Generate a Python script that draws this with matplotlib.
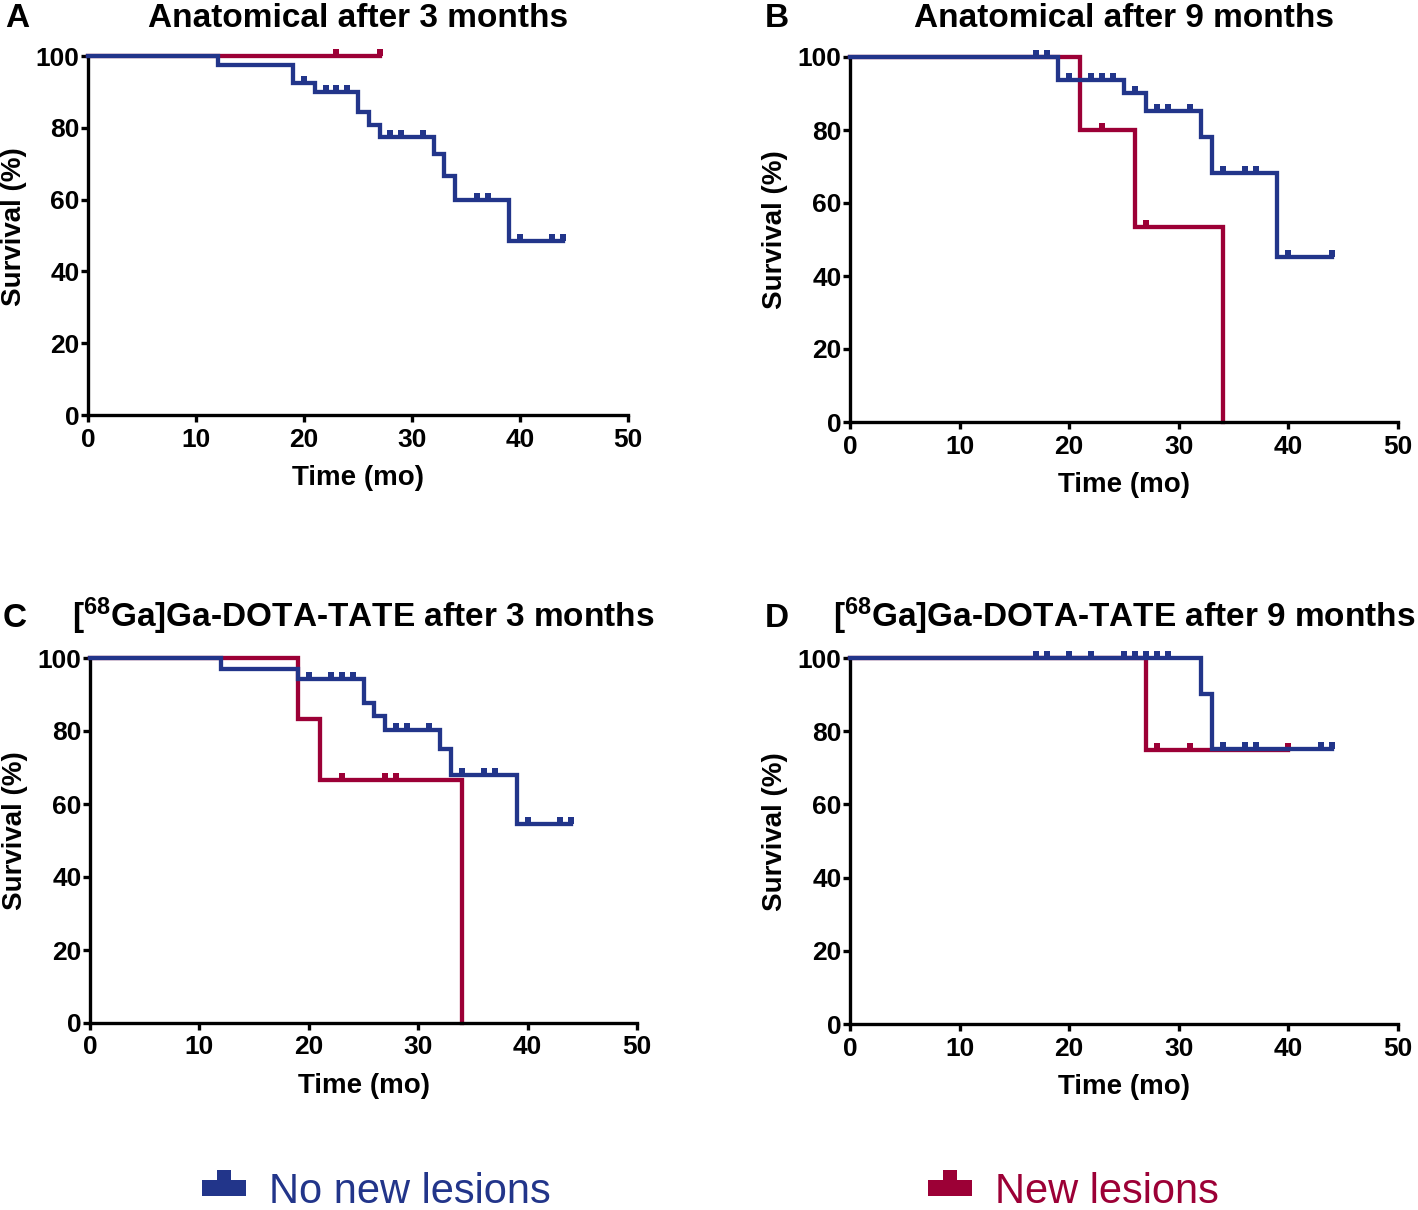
import matplotlib
matplotlib.use("Agg")
import matplotlib.pyplot as plt
from matplotlib.path import Path
from matplotlib.lines import Line2D

plt.rcParams['font.family'] = ['Liberation Sans', 'DejaVu Sans']
plt.rcParams['mathtext.fontset'] = 'custom'
plt.rcParams['mathtext.rm'] = 'Liberation Sans:bold'
plt.rcParams['mathtext.bf'] = 'Liberation Sans:bold'
plt.rcParams['mathtext.default'] = 'bf'

BLUE = '#22358a'
RED = '#9c0036'

# ---------------- data ----------------
titles = ['Anatomical after 3 months', 'Anatomical after 9 months',
          '[$^{68}$Ga]Ga-DOTA-TATE after 3 months', '[$^{68}$Ga]Ga-DOTA-TATE after 9 months']
letters = ['A', 'B', 'C', 'D']
group_labels = ['No new lesions', 'New lesions']
x_ticks = [0, 10, 20, 30, 40, 50]
y_ticks = [0, 20, 40, 60, 80, 100]

# Panel A
A_no_t = [0, 12, 19, 21, 25, 26, 27, 32, 33, 34, 39, 44]
A_no_s = [100, 97.5, 92.6, 90.0, 84.4, 80.9, 77.4, 72.6, 66.5, 59.9, 48.4, 48.4]
A_no_c = [20, 22, 23, 24, 28, 29, 31, 36, 37, 40, 43, 44]
A_new_t = [0, 27]
A_new_s = [100, 100]
A_new_c = [23, 27]

# Panel B
B_no_t = [0, 19, 25, 27, 32, 33, 39, 44]
B_no_s = [100, 93.8, 90.1, 85.3, 78.0, 68.1, 45.3, 45.3]
B_no_c = [17, 18, 20, 22, 23, 24, 26, 28, 29, 31, 34, 36, 37, 40, 44]
B_new_t = [0, 21, 26, 34]
B_new_s = [100, 80.0, 53.3, 0]
B_new_c = [23, 27]

# Panel C
C_no_t = [0, 12, 19, 25, 26, 27, 32, 33, 39, 44]
C_no_s = [100, 96.9, 94.3, 87.8, 84.0, 80.2, 75.0, 67.9, 54.6, 54.6]
C_no_c = [20, 22, 23, 24, 28, 29, 31, 34, 36, 37, 40, 43, 44]
C_new_t = [0, 19, 21, 34]
C_new_s = [100, 83.3, 66.7, 0]
C_new_c = [23, 27, 28]

# Panel D
D_no_t = [0, 32, 33, 44]
D_no_s = [100, 90.2, 75.2, 75.2]
D_no_c = [17, 18, 20, 22, 25, 26, 27, 28, 29, 34, 36, 37, 43, 44]
D_new_t = [0, 27, 40]
D_new_s = [100, 75.0, 75.0]
D_new_c = [28, 31, 40]

panels = [
    (A_no_t, A_no_s, A_no_c, A_new_t, A_new_s, A_new_c),
    (B_no_t, B_no_s, B_no_c, B_new_t, B_new_s, B_new_c),
    (C_no_t, C_no_s, C_no_c, C_new_t, C_new_s, C_new_c),
    (D_no_t, D_no_s, D_no_c, D_new_t, D_new_s, D_new_c),
]

# ---------------- layout ----------------
W, H = 1418, 1210
fig = plt.figure(figsize=(W / 100, H / 100), dpi=100)

# axes boxes in pixels: left, right, top, bottom
boxes = [(88, 628, 56, 415), (850, 1398, 57, 422), (90, 637, 658, 1023), (850, 1398, 658, 1024)]
title_base = [27, 27, 627, 627]
letter_x = [5, 765, 3, 765]

# censor tick marker (sits on top of the line)
cens_marker = Path([(-0.4, 0), (0.4, 0), (0.4, 1), (-0.4, 1), (-0.4, 0)],
                   [Path.MOVETO, Path.LINETO, Path.LINETO, Path.LINETO, Path.CLOSEPOLY])


def step_value(t, s, x):
    v = s[0]
    for ti, si in zip(t, s):
        if ti <= x:
            v = si
    return v


for i, (box, data) in enumerate(zip(boxes, panels)):
    l, r, top, b = box
    ax = fig.add_axes([l / W, 1 - b / H, (r - l) / W, (b - top) / H])
    no_t, no_s, no_c, new_t, new_s, new_c = data
    for t, s, c, col, z in [(new_t, new_s, new_c, RED, 2), (no_t, no_s, no_c, BLUE, 3)]:
        ax.step(t, s, where='post', color=col, lw=3.1, clip_on=False, zorder=z,
                solid_joinstyle='miter')
        cy = [step_value(t, s, x) for x in c]
        ax.plot(c, cy, linestyle='none', marker=cens_marker, markersize=9.5,
                color=col, markeredgewidth=0, clip_on=False, zorder=z)
    ax.set_xlim(0, 50)
    ax.set_ylim(0, 100)
    ax.set_xticks(x_ticks)
    ax.set_yticks(y_ticks)
    for sp in ['top', 'right']:
        ax.spines[sp].set_visible(False)
    for sp in ['left', 'bottom']:
        ax.spines[sp].set_linewidth(2.4)
    ax.tick_params(axis='both', direction='out', length=5, width=2.4, labelsize=19)
    ax.tick_params(axis='y', pad=1)
    ax.tick_params(axis='x', pad=4)
    for lab in ax.get_xticklabels() + ax.get_yticklabels():
        lab.set_fontweight('bold')
    ax.set_xlabel('Time (mo)', fontsize=20, fontweight='bold', labelpad=10)
    ax.set_ylabel('Survival (%)', fontsize=20, fontweight='bold')
    ax.yaxis.set_label_coords(-0.113, 0.526)
    cx = (l + r) / 2 / W
    fig.text(cx, 1 - title_base[i] / H, titles[i], ha='center', va='baseline',
             fontsize=24, fontweight='bold')
    fig.text(letter_x[i] / W, 1 - title_base[i] / H, letters[i], ha='left', va='baseline',
             fontsize=24, fontweight='bold')

# legend marker: bar with a bump on top
leg_marker = Path([(-21.5, -7.5), (21.5, -7.5), (21.5, 7.5), (6.5, 7.5), (6.5, 17.5),
                   (-6.5, 17.5), (-6.5, 7.5), (-21.5, 7.5), (-21.5, -7.5)],
                  [Path.MOVETO] + [Path.LINETO] * 7 + [Path.CLOSEPOLY])

for lab, col, x0 in [(group_labels[0], BLUE, 202), (group_labels[1], RED, 928)]:
    h = Line2D([], [], linestyle='none', marker=leg_marker, markersize=31,
               color=col, markeredgewidth=0)
    fig.legend([h], [lab], loc='center left', bbox_to_anchor=(x0 / W, 1 - 1192 / H),
               frameon=False, fontsize=30, labelcolor=col, handlelength=1.05,
               handletextpad=0.55, borderpad=0, borderaxespad=0)

fig.savefig('out.png', dpi=100)
